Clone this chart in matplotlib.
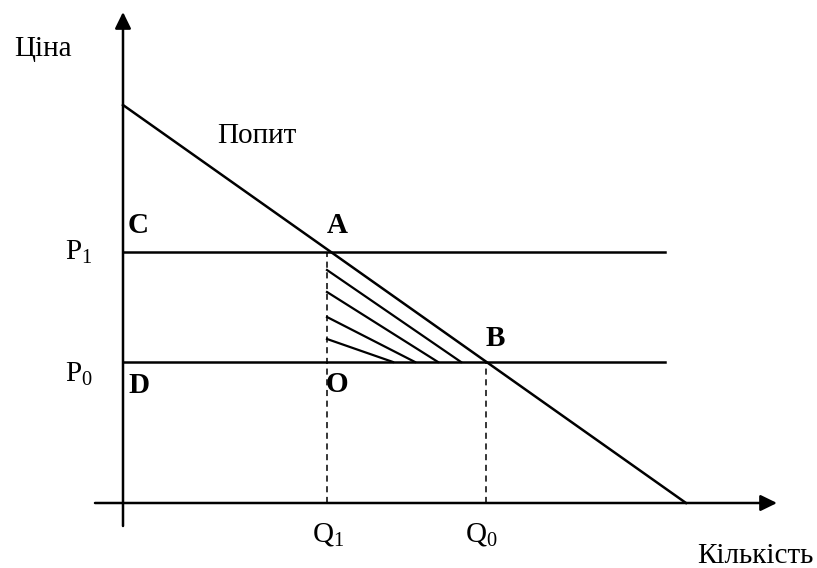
import numpy as np
import matplotlib.pyplot as plt
import matplotlib as mpl

mpl.rcParams['font.family'] = 'Liberation Serif'
mpl.rcParams['font.size'] = 21
mpl.rcParams['mathtext.fontset'] = 'custom'
mpl.rcParams['mathtext.rm'] = 'Liberation Serif'
mpl.rcParams['mathtext.it'] = 'Liberation Serif:italic'

# demand line intercepts (price axis, quantity axis)
price_intercept = 398
qty_intercept = 563
# price levels P0, P1
p_levels = [141, 251]
p_names = [r'P$_{0}$', r'P$_{1}$']
# quantities Q1, Q0
q_levels = [204, 363]
q_names = [r'Q$_{1}$', r'Q$_{0}$']
# horizontal price lines end here
price_line_end = 542
# hatch lines: start on Q1 vertical at these prices, end on P0 at these quantities
hatch_start_p = [233, 211, 186, 164]
hatch_end_q = [338, 315, 292, 270]

fig = plt.figure(figsize=(8.17, 5.68), dpi=100)
ax = fig.add_axes([0, 0, 1, 1])
ax.set_xlim(-123, 694)
ax.set_ylim(-65, 503)
ax.axis('off')

arrow = dict(arrowstyle='-|>,head_length=0.45,head_width=0.22', mutation_scale=22,
             lw=1.8, color='black', shrinkA=0, shrinkB=0)
# axes with arrows
ax.annotate('', xy=(0, 491), xytext=(0, -23), arrowprops=arrow)
ax.annotate('', xy=(654, 0), xytext=(-28, 0), arrowprops=arrow)

# demand
ax.plot([0, qty_intercept], [price_intercept, 0], color='black', lw=1.8)

# price lines
for p in p_levels:
    ax.plot([0, price_line_end], [p, p], color='black', lw=1.8)

# dashed drops
ax.plot([q_levels[0], q_levels[0]], [0, p_levels[1]], color='black', lw=1.1, dashes=(4, 3))
ax.plot([q_levels[1], q_levels[1]], [0, p_levels[0]], color='black', lw=1.1, dashes=(4, 3))

# hatching
for ys, xe in zip(hatch_start_p, hatch_end_q):
    ax.plot([q_levels[0], xe], [ys, p_levels[0]], color='black', lw=1.6)

# labels
ax.text(-80, 447, 'Ціна', ha='center', va='baseline')
ax.text(574, -60, 'Кількість', ha='left', va='baseline')
ax.text(134, 360, 'Попит', ha='center', va='baseline')
ax.text(15, 270, 'C', ha='center', va='baseline', fontweight='bold')
ax.text(214, 270, 'A', ha='center', va='baseline', fontweight='bold')
ax.text(372, 157, 'B', ha='center', va='baseline', fontweight='bold')
ax.text(16, 110, 'D', ha='center', va='baseline', fontweight='bold')
ax.text(214, 111, 'O', ha='center', va='baseline', fontweight='bold')
ax.text(-58, 121, p_names[0], ha='left', va='baseline')
ax.text(-58, 243, p_names[1], ha='left', va='baseline')
ax.text(189, -38, q_names[0], ha='left', va='baseline')
ax.text(342, -38, q_names[1], ha='left', va='baseline')

fig.savefig('out.png', dpi=100)
